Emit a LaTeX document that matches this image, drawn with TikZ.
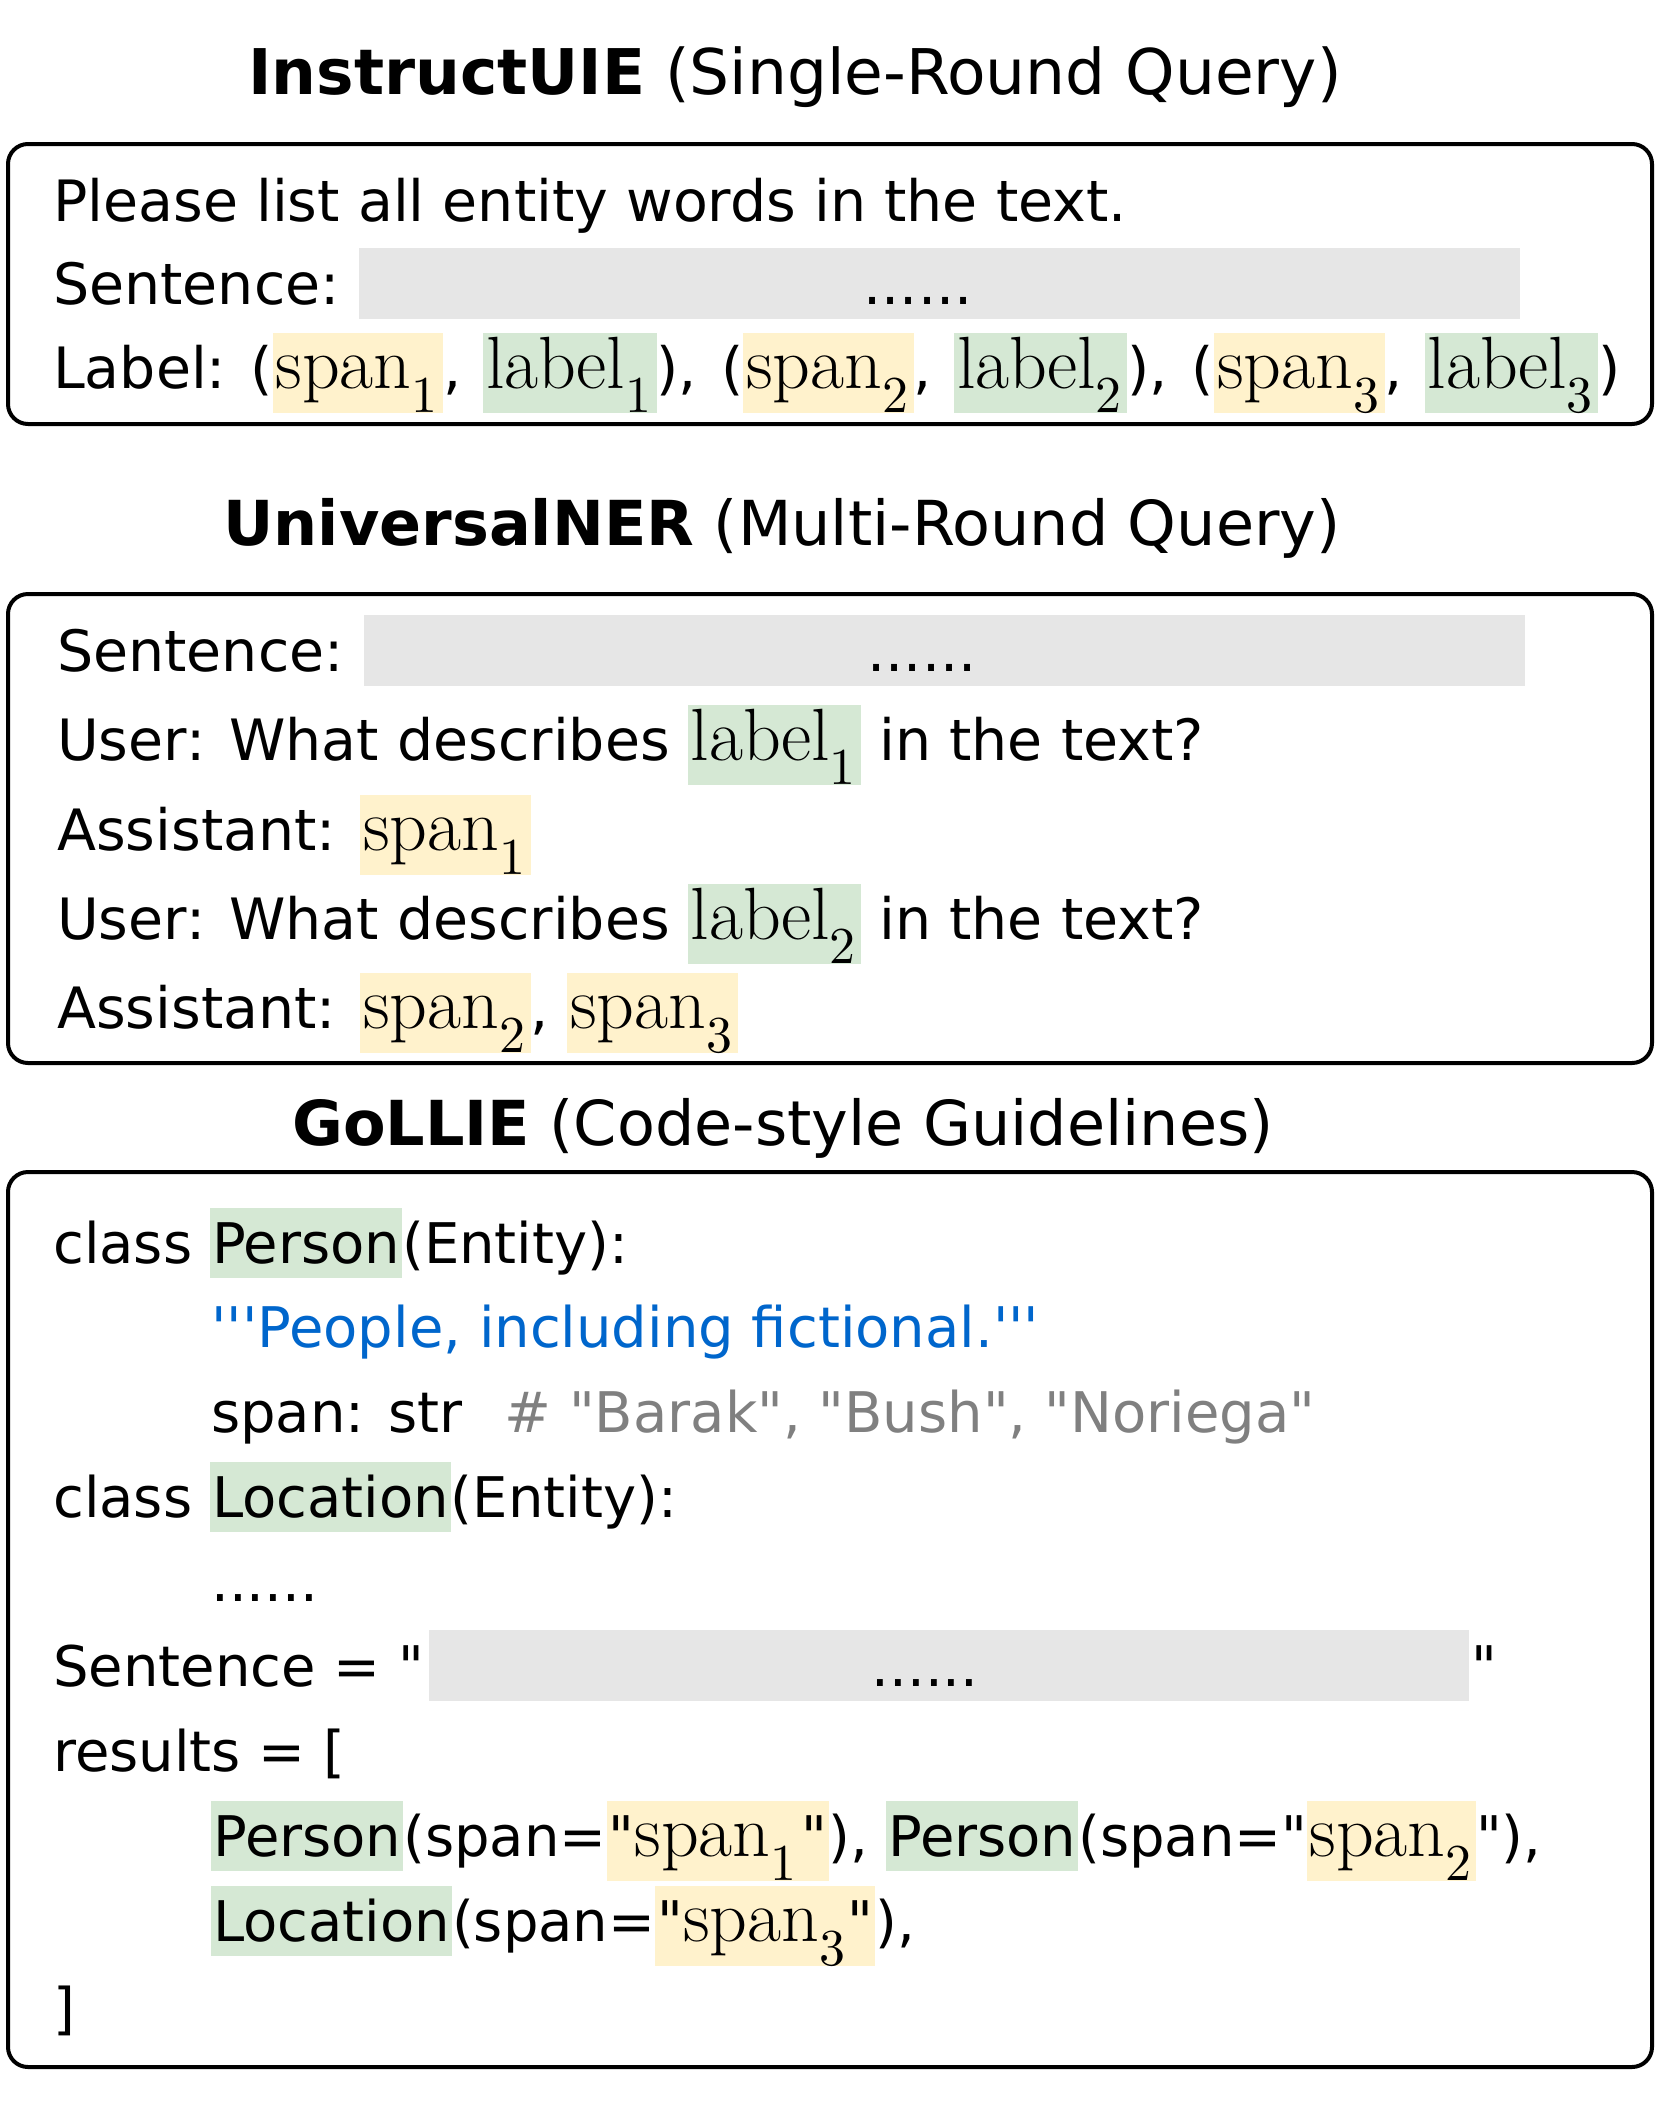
\documentclass[tikz,border=0pt]{standalone}
\usepackage{graphicx}
\usepackage{fontspec}
\DeclareFontShape{OT1}{cmr}{m}{n}{<->cmr10}{}
\newfontfamily\dv{DejaVu Sans}
\definecolor{hlyel}{HTML}{FFF2CC}
\definecolor{hlgrn}{HTML}{D5E8D4}
\definecolor{sentgray}{HTML}{E6E6E6}
\definecolor{docblue}{HTML}{0066CC}
\definecolor{cmtgray}{HTML}{808080}
\newcommand{\hlbox}[3][3pt]{{\setlength{\fboxsep}{0pt}\colorbox{#2}{\rule[-15pt]{0pt}{70pt}\kern#1#3\kern#1}}}
\newcommand{\hly}[2][3pt]{\hlbox[#1]{hlyel}{#2}}
\newcommand{\hlg}[2][3pt]{\hlbox[#1]{hlgrn}{#2}}
\newcommand{\spnx}[1]{{\fontsize{74}{76}\selectfont$\mathrm{span}_{#1}$\kern2pt}}
\newcommand{\lblx}[1]{{\fontsize{74}{76}\selectfont$\mathrm{label}_{#1}$\kern2pt}}
\newcommand{\csep}{,\kern4pt\ }
\newcommand{\psep}{,\kern6pt\ }
\tikzset{
  txt/.style={anchor=base west, inner sep=0pt, font=\dv\fontsize{57}{60}\selectfont},
  code/.style={anchor=base west, inner sep=0pt, font=\dv\fontsize{56}{60}\selectfont},
  ttl/.style={anchor=base, inner sep=0pt, font=\dv\fontsize{62}{66}\selectfont},
  frame/.style={draw, line width=4pt, rounded corners=20pt, minimum width=1644pt, inner sep=0pt},
  graybar/.style={fill=sentgray, inner sep=0pt, anchor=north west, minimum height=71pt},
}
\begin{document}
\begin{tikzpicture}[x=1pt,y=-1pt]
\useasboundingbox[fill=white] (0,0) rectangle (1661,2102);
% titles
\node[ttl, font=\dv\fontsize{63}{66}\selectfont] (t1) at (795,94) {\textbf{InstructUIE} (Single-Round Query)};
\node[ttl] (t2) at (782,545) {\textbf{UniversalNER} (Multi-Round Query)};
\node[ttl] (t3) at (783,1145) {\textbf{GoLLIE} (Code-style Guidelines)};
% frames
\node[frame, minimum height=280pt] (b1) at (830,284) {};
\node[frame, minimum height=469pt] (b2) at (830,828.5) {};
\node[frame, minimum height=895pt] (b3) at (830,1619.5) {};
% box 1
\node[graybar, minimum width=1161pt] (g1) at (359,248) {};
\node[txt] (i1) at (53,221) {Please list all entity words in the text.};
\node[txt] (i2) at (53,304) {Sentence:};
\node[txt, anchor=base] (d1) at (918,304) {......};
\node[txt] (i3) at (53,388) {Label: (\hly{\spnx1}\csep\hlg{\lblx1})\psep(\hly{\spnx2}\csep\hlg{\lblx2})\psep(\hly{\spnx3}\csep\hlg{\lblx3})};
% box 2
\node[graybar, minimum width=1161pt] (g2) at (364,615) {};
\node[txt] (u1) at (57,671) {Sentence:};
\node[txt, anchor=base] (d2) at (922,671) {......};
\node[txt] (u2) at (57,760) {User: What describes \hlg{\lblx1} in the text?};
\node[txt] (u3) at (57,850) {Assistant: \hly{\spnx1}};
\node[txt] (u4) at (57,939) {User: What describes \hlg{\lblx2} in the text?};
\node[txt] (u5) at (57,1028) {Assistant: \hly{\spnx2}, \hly{\spnx3}};
% box 3
\node[code] (c1) at (53,1263) {class \hlg[2pt]{Person}(Entity):};
\node[code, text=docblue] (c2) at (211,1347) {'''People, including fictional.'''};
\node[code] (c3) at (211,1432) {span: str\hspace{42pt}{\color{cmtgray}\# "Barak", "Bush", "Noriega"}};
\node[code] (c4) at (53,1517) {class \hlg[2pt]{Location}(Entity):};
\node[code] (c5) at (211,1601) {......};
\node[graybar, minimum width=1040pt] (g3) at (429,1630) {};
\node[code] (c6) at (53,1686) {Sentence = "};
\node[code, anchor=base] (d3) at (925,1686) {......};
\node[code] (c6q) at (1471,1686) {"};
\node[code] (c7) at (53,1771) {results = [};
\node[code] (c8) at (211,1856) {\hlg[2pt]{Person}(span=\hly[2pt]{"\spnx1\kern2pt"}), \hlg[2pt]{Person}(span="\hly[2pt]{\spnx2}"),};
\node[code] (c9) at (211,1941) {\hlg[2pt]{Location}(span=\hly[2pt]{"\spnx3"}),};
\node[code] (c10) at (53,2028) {]};
\end{tikzpicture}
\end{document}
